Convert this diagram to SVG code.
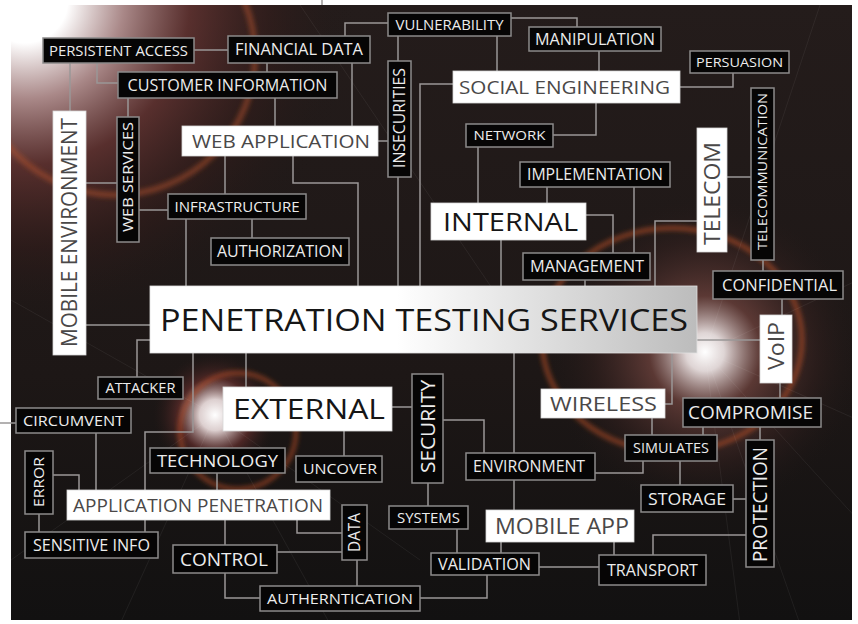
<svg xmlns="http://www.w3.org/2000/svg" width="858" height="624" viewBox="0 0 858 624">
<style>
.bk{fill:#060505;stroke:#8c8a8a;stroke-width:1.5}
.wt{fill:#ffffff;stroke:#d8d8d8;stroke-width:0.8}
text{font-family:"Open Sans","Noto Sans","Liberation Sans",sans-serif;text-anchor:middle}
.tw{fill:#ececec}
.tg{fill:#4a4848}
.td{fill:#161616}
.conn path{fill:none;stroke:#9a9797;stroke-width:1.5}
.ray{stroke:#ffffff;stroke-opacity:0.06;stroke-width:1}
</style>
<defs>
<clipPath id="clipBg"><rect x="11" y="5" width="841" height="615"/></clipPath>
<linearGradient id="gBase" x1="0" y1="0" x2="0" y2="1">
<stop offset="0" stop-color="#241c1b"/><stop offset="0.6" stop-color="#1d1716"/><stop offset="1" stop-color="#121111"/>
</linearGradient>
<radialGradient id="gTL" gradientUnits="userSpaceOnUse" cx="25" cy="0" r="330">
<stop offset="0" stop-color="#ffffff" stop-opacity="1"/>
<stop offset="0.13" stop-color="#ffffff" stop-opacity="1"/>
<stop offset="0.3" stop-color="#b89494" stop-opacity="0.9"/>
<stop offset="0.5" stop-color="#6a3634" stop-opacity="0.75"/>
<stop offset="0.75" stop-color="#3a1e1c" stop-opacity="0.45"/>
<stop offset="1" stop-color="#1d1716" stop-opacity="0"/>
</radialGradient>
<radialGradient id="gExt" gradientUnits="userSpaceOnUse" cx="215" cy="415" r="62">
<stop offset="0" stop-color="#ffffff" stop-opacity="1"/>
<stop offset="0.25" stop-color="#f2e4e4" stop-opacity="0.9"/>
<stop offset="0.6" stop-color="#6e3230" stop-opacity="0.6"/>
<stop offset="1" stop-color="#2a1a18" stop-opacity="0"/>
</radialGradient>
<radialGradient id="gRight" gradientUnits="userSpaceOnUse" cx="705" cy="352" r="160">
<stop offset="0" stop-color="#ffffff" stop-opacity="1"/>
<stop offset="0.12" stop-color="#f4eaea" stop-opacity="0.9"/>
<stop offset="0.35" stop-color="#7c4a44" stop-opacity="0.65"/>
<stop offset="0.7" stop-color="#3c2422" stop-opacity="0.4"/>
<stop offset="1" stop-color="#1d1716" stop-opacity="0"/>
</radialGradient>
<linearGradient id="gPts" gradientUnits="userSpaceOnUse" x1="150" y1="0" x2="697" y2="0">
<stop offset="0" stop-color="#ffffff"/><stop offset="0.45" stop-color="#ffffff"/><stop offset="1" stop-color="#bcbcbc"/>
</linearGradient>
<filter id="blur" x="-20%" y="-20%" width="140%" height="140%"><feGaussianBlur stdDeviation="2.5"/></filter>
</defs>
<rect x="0" y="0" width="858" height="624" fill="#ffffff"/>
<g id="background" clip-path="url(#clipBg)">
<rect x="11" y="5" width="841" height="615" fill="url(#gBase)"/>
<rect x="11" y="5" width="841" height="615" fill="url(#gTL)"/>
<circle cx="115" cy="55" r="140" fill="none" stroke="#b4532c" stroke-opacity="0.6" stroke-width="5" filter="url(#blur)"/>
<rect x="11" y="5" width="841" height="615" fill="url(#gRight)"/>
<ellipse cx="672" cy="340" rx="130" ry="112" fill="none" stroke="#b8502a" stroke-opacity="0.75" stroke-width="4" filter="url(#blur)"/>
<circle cx="215" cy="415" r="62" fill="url(#gExt)"/>
<circle cx="238" cy="431" r="58" fill="none" stroke="#b44c26" stroke-opacity="0.8" stroke-width="3.5" filter="url(#blur)"/>
<g class="ray">
<line x1="705" y1="352" x2="858" y2="280"/><line x1="705" y1="352" x2="858" y2="420"/>
<line x1="705" y1="352" x2="800" y2="624"/><line x1="705" y1="352" x2="740" y2="624"/>
<line x1="705" y1="352" x2="858" y2="520"/><line x1="705" y1="352" x2="820" y2="5"/>
<line x1="215" y1="415" x2="11" y2="560"/><line x1="215" y1="415" x2="120" y2="624"/>
<line x1="215" y1="415" x2="330" y2="624"/><line x1="215" y1="415" x2="420" y2="560"/>
<line x1="215" y1="415" x2="11" y2="300"/><line x1="300" y1="5" x2="500" y2="300"/>
</g>
</g>
<g class="conn" id="connectors">
<path d="M194,50 H228"/>
<path d="M97,63 V83 H118"/>
<path d="M70,63 V111"/>
<path d="M267,63 V72"/>
<path d="M352,63 V126"/>
<path d="M388,23 H345 V36"/>
<path d="M511,18 H577 V27"/>
<path d="M398,36 V61"/>
<path d="M497,36 V71"/>
<path d="M599,51 V71"/>
<path d="M680,87 H733 V73"/>
<path d="M596,103 V135 H553"/>
<path d="M453,84 H420 V286"/>
<path d="M398,177 V286"/>
<path d="M378,141 H388"/>
<path d="M293,156 V183 H358 V286"/>
<path d="M275,98 V126"/>
<path d="M128,98 V117"/>
<path d="M225,156 V194"/>
<path d="M86,183 H117"/>
<path d="M139,210 H168"/>
<path d="M252,219 V238"/>
<path d="M186,219 V286"/>
<path d="M86,325 H150"/>
<path d="M478,147 V203"/>
<path d="M547,187 V203"/>
<path d="M634,187 V253"/>
<path d="M501,240 V286"/>
<path d="M586,215 H613 V253"/>
<path d="M585,280 V286"/>
<path d="M727,177 H751"/>
<path d="M697,221 H655 V286"/>
<path d="M763,260 V271"/>
<path d="M782,299 V315"/>
<path d="M697,340 H760"/>
<path d="M780,383 V398"/>
<path d="M150,340 H137 V377"/>
<path d="M193,353 V432 H145 V490"/>
<path d="M145,520 V532"/>
<path d="M246,353 V387"/>
<path d="M392,407 H412"/>
<path d="M344,431 V456"/>
<path d="M443,420 H484 V453"/>
<path d="M428,483 V506"/>
<path d="M514,353 V453"/>
<path d="M514,480 V510"/>
<path d="M595,473 H643 V461"/>
<path d="M672,353 V404 H665"/>
<path d="M652,418 V435"/>
<path d="M703,427 V435"/>
<path d="M760,427 V440"/>
<path d="M680,461 V485"/>
<path d="M733,499 H746"/>
<path d="M653,555 V535 H746"/>
<path d="M614,542 V555"/>
<path d="M539,567 H599"/>
<path d="M501,553 V542"/>
<path d="M457,529 V553"/>
<path d="M420,598 H487 V575"/>
<path d="M357,560 V586"/>
<path d="M277,552 H342"/>
<path d="M297,520 V533 H342"/>
<path d="M225,520 V598 H260"/>
<path d="M217,473 V490"/>
<path d="M96,433 V490"/>
<path d="M53,475 H79 V490"/>
<path d="M39,514 V532"/>
<path d="M0,423 H16"/>
<path d="M322,0 V5"/>
</g>
<g id="persistent-access"><rect class="bk" x="43" y="38" width="151" height="25"/><text class="tw" x="118.5" y="55.5" font-size="14" textLength="139" lengthAdjust="spacingAndGlyphs">PERSISTENT ACCESS</text></g>
<g id="financial-data"><rect class="bk" x="228" y="36" width="142" height="27"/><text class="tw" x="299" y="55.3" font-size="16" textLength="128" lengthAdjust="spacingAndGlyphs">FINANCIAL DATA</text></g>
<g id="customer-information"><rect class="bk" x="118" y="72" width="219" height="26"/><text class="tw" x="227.5" y="90.8" font-size="16" textLength="200" lengthAdjust="spacingAndGlyphs">CUSTOMER INFORMATION</text></g>
<g id="mobile-environment"><rect class="wt" x="53" y="111" width="33" height="244"/><g transform="translate(69.5,232.5) rotate(-90)"><text class="tg" x="0" y="7.9" font-size="22" textLength="229" lengthAdjust="spacingAndGlyphs">MOBILE ENVIRONMENT</text></g></g>
<g id="web-services"><rect class="bk" x="117" y="117" width="22" height="125"/><g transform="translate(128,177) rotate(-90)"><text class="tw" x="0" y="5.2" font-size="14.5" textLength="110" lengthAdjust="spacingAndGlyphs">WEB SERVICES</text></g></g>
<g id="infrastructure"><rect class="bk" x="168" y="194" width="138" height="25"/><text class="tw" x="237" y="211.5" font-size="14" textLength="125" lengthAdjust="spacingAndGlyphs">INFRASTRUCTURE</text></g>
<g id="authorization"><rect class="bk" x="211" y="238" width="138" height="27"/><text class="tw" x="280" y="257.3" font-size="16" textLength="126" lengthAdjust="spacingAndGlyphs">AUTHORIZATION</text></g>
<g id="web-application"><rect class="wt" x="182" y="126" width="196" height="30"/><text class="tg" x="281" y="147.8" font-size="19" textLength="178" lengthAdjust="spacingAndGlyphs">WEB APPLICATION</text></g>
<g id="insecurities"><rect class="bk" x="388" y="61" width="23" height="116"/><g transform="translate(399.5,118) rotate(-90)"><text class="tw" x="0" y="5.8" font-size="16" textLength="100" lengthAdjust="spacingAndGlyphs">INSECURITIES</text></g></g>
<g id="vulnerability"><rect class="bk" x="388" y="13" width="123" height="23"/><text class="tw" x="449.5" y="29.5" font-size="14" textLength="108" lengthAdjust="spacingAndGlyphs">VULNERABILITY</text></g>
<g id="manipulation"><rect class="bk" x="529" y="27" width="132" height="24"/><text class="tw" x="595" y="44.6" font-size="15.5" textLength="120" lengthAdjust="spacingAndGlyphs">MANIPULATION</text></g>
<g id="social-engineering"><rect class="wt" x="453" y="71" width="227" height="32"/><text class="tg" x="564.5" y="93.8" font-size="19" textLength="211" lengthAdjust="spacingAndGlyphs">SOCIAL ENGINEERING</text></g>
<g id="persuasion"><rect class="bk" x="690" y="51" width="99" height="22"/><text class="tw" x="739.5" y="66.9" font-size="13.5" textLength="87" lengthAdjust="spacingAndGlyphs">PERSUASION</text></g>
<g id="network"><rect class="bk" x="466" y="124" width="87" height="23"/><text class="tw" x="509.5" y="140.4" font-size="13.5" textLength="72" lengthAdjust="spacingAndGlyphs">NETWORK</text></g>
<g id="implementation"><rect class="bk" x="520" y="162" width="150" height="25"/><text class="tw" x="595" y="180.1" font-size="15.5" textLength="136" lengthAdjust="spacingAndGlyphs">IMPLEMENTATION</text></g>
<g id="internal"><rect class="wt" x="431" y="203" width="155" height="37"/><text class="td" x="510.5" y="230.9" font-size="26" textLength="135" lengthAdjust="spacingAndGlyphs">INTERNAL</text></g>
<g id="management"><rect class="bk" x="523" y="253" width="127" height="27"/><text class="tw" x="587" y="272.1" font-size="15.5" textLength="114" lengthAdjust="spacingAndGlyphs">MANAGEMENT</text></g>
<g id="telecom"><rect class="wt" x="697" y="128" width="30" height="124"/><g transform="translate(712,193.5) rotate(-90)"><text class="tg" x="0" y="7.6" font-size="21" textLength="103" lengthAdjust="spacingAndGlyphs">TELECOM</text></g></g>
<g id="telecommunication"><rect class="bk" x="751" y="88" width="23" height="172"/><g transform="translate(762.5,171.5) rotate(-90)"><text class="tw" x="0" y="4.7" font-size="13" textLength="157" lengthAdjust="spacingAndGlyphs">TELECOMMUNICATION</text></g></g>
<g id="confidential"><rect class="bk" x="713" y="271" width="130" height="28"/><text class="tw" x="779.5" y="290.8" font-size="16" textLength="115" lengthAdjust="spacingAndGlyphs">CONFIDENTIAL</text></g>
<g id="voip"><rect class="wt" x="760" y="315" width="32" height="68"/><g transform="translate(776,346) rotate(-90)"><text class="tg" x="0" y="7.9" font-size="22" textLength="48" lengthAdjust="spacingAndGlyphs">VoIP</text></g></g>
<g id="penetration-testing-services"><rect x="150" y="286" width="547" height="67" fill="url(#gPts)" stroke="#e0e0e0" stroke-width="0.8"/><text class="td" x="424" y="330.6" font-size="31" textLength="528" lengthAdjust="spacingAndGlyphs">PENETRATION TESTING SERVICES</text></g>
<g id="attacker"><rect class="bk" x="98" y="377" width="85" height="22"/><text class="tw" x="140.5" y="393" font-size="14" textLength="70" lengthAdjust="spacingAndGlyphs">ATTACKER</text></g>
<g id="external"><rect class="wt" x="223" y="387" width="169" height="44"/><text class="td" x="309" y="418.5" font-size="27" textLength="152" lengthAdjust="spacingAndGlyphs">EXTERNAL</text></g>
<g id="security"><rect class="bk" x="412" y="374" width="31" height="109"/><g transform="translate(427.5,426.5) rotate(-90)"><text class="tw" x="0" y="7.2" font-size="20" textLength="93" lengthAdjust="spacingAndGlyphs">SECURITY</text></g></g>
<g id="technology"><rect class="bk" x="150" y="448" width="135" height="25"/><text class="tw" x="217.5" y="466.6" font-size="17" textLength="121" lengthAdjust="spacingAndGlyphs">TECHNOLOGY</text></g>
<g id="uncover"><rect class="bk" x="296" y="456" width="86" height="26"/><text class="tw" x="340" y="474.4" font-size="15" textLength="74" lengthAdjust="spacingAndGlyphs">UNCOVER</text></g>
<g id="circumvent"><rect class="bk" x="16" y="408" width="115" height="25"/><text class="tw" x="73.5" y="426" font-size="15" textLength="101" lengthAdjust="spacingAndGlyphs">CIRCUMVENT</text></g>
<g id="error"><rect class="bk" x="25" y="451" width="28" height="63"/><g transform="translate(39,482) rotate(-90)"><text class="tw" x="0" y="5.4" font-size="15" textLength="50" lengthAdjust="spacingAndGlyphs">ERROR</text></g></g>
<g id="application-penetration"><rect class="wt" x="67" y="490" width="263" height="30"/><text class="tg" x="198" y="511.5" font-size="18" textLength="250" lengthAdjust="spacingAndGlyphs">APPLICATION PENETRATION</text></g>
<g id="sensitive-info"><rect class="bk" x="25" y="532" width="133" height="26"/><text class="tw" x="91.5" y="550.6" font-size="15.5" textLength="117" lengthAdjust="spacingAndGlyphs">SENSITIVE INFO</text></g>
<g id="control"><rect class="bk" x="173" y="545" width="104" height="28"/><text class="tw" x="224" y="565.8" font-size="19" textLength="88" lengthAdjust="spacingAndGlyphs">CONTROL</text></g>
<g id="data"><rect class="bk" x="342" y="505" width="25" height="55"/><g transform="translate(354.5,532.5) rotate(-90)"><text class="tw" x="0" y="5.8" font-size="16" textLength="39" lengthAdjust="spacingAndGlyphs">DATA</text></g></g>
<g id="autherntication"><rect class="bk" x="260" y="586" width="160" height="25"/><text class="tw" x="340" y="604" font-size="15" textLength="146" lengthAdjust="spacingAndGlyphs">AUTHERNTICATION</text></g>
<g id="systems"><rect class="bk" x="389" y="506" width="79" height="23"/><text class="tw" x="428.5" y="522.5" font-size="14" textLength="63" lengthAdjust="spacingAndGlyphs">SYSTEMS</text></g>
<g id="validation"><rect class="bk" x="431" y="553" width="108" height="22"/><text class="tw" x="484.5" y="569.8" font-size="16" textLength="93" lengthAdjust="spacingAndGlyphs">VALIDATION</text></g>
<g id="environment"><rect class="bk" x="466" y="453" width="129" height="27"/><text class="tw" x="529" y="472.3" font-size="16" textLength="112" lengthAdjust="spacingAndGlyphs">ENVIRONMENT</text></g>
<g id="mobile-app"><rect class="wt" x="486" y="510" width="148" height="32"/><text class="tg" x="562" y="533.6" font-size="21" textLength="134" lengthAdjust="spacingAndGlyphs">MOBILE APP</text></g>
<g id="transport"><rect class="bk" x="599" y="555" width="107" height="30"/><text class="tw" x="652.5" y="575.8" font-size="16" textLength="91" lengthAdjust="spacingAndGlyphs">TRANSPORT</text></g>
<g id="wireless"><rect class="wt" x="541" y="389" width="124" height="29"/><text class="tg" x="603.5" y="410.5" font-size="19.5" textLength="107" lengthAdjust="spacingAndGlyphs">WIRELESS</text></g>
<g id="compromise"><rect class="bk" x="683" y="398" width="138" height="29"/><text class="tw" x="750.5" y="419" font-size="18" textLength="125" lengthAdjust="spacingAndGlyphs">COMPROMISE</text></g>
<g id="simulates"><rect class="bk" x="625" y="435" width="92" height="26"/><text class="tw" x="671" y="453" font-size="14" textLength="76" lengthAdjust="spacingAndGlyphs">SIMULATES</text></g>
<g id="storage"><rect class="bk" x="641" y="485" width="92" height="27"/><text class="tw" x="687" y="504.6" font-size="17" textLength="78" lengthAdjust="spacingAndGlyphs">STORAGE</text></g>
<g id="protection"><rect class="bk" x="746" y="440" width="28" height="127"/><g transform="translate(760,504.5) rotate(-90)"><text class="tw" x="0" y="7.2" font-size="20" textLength="115" lengthAdjust="spacingAndGlyphs">PROTECTION</text></g></g>
</svg>
